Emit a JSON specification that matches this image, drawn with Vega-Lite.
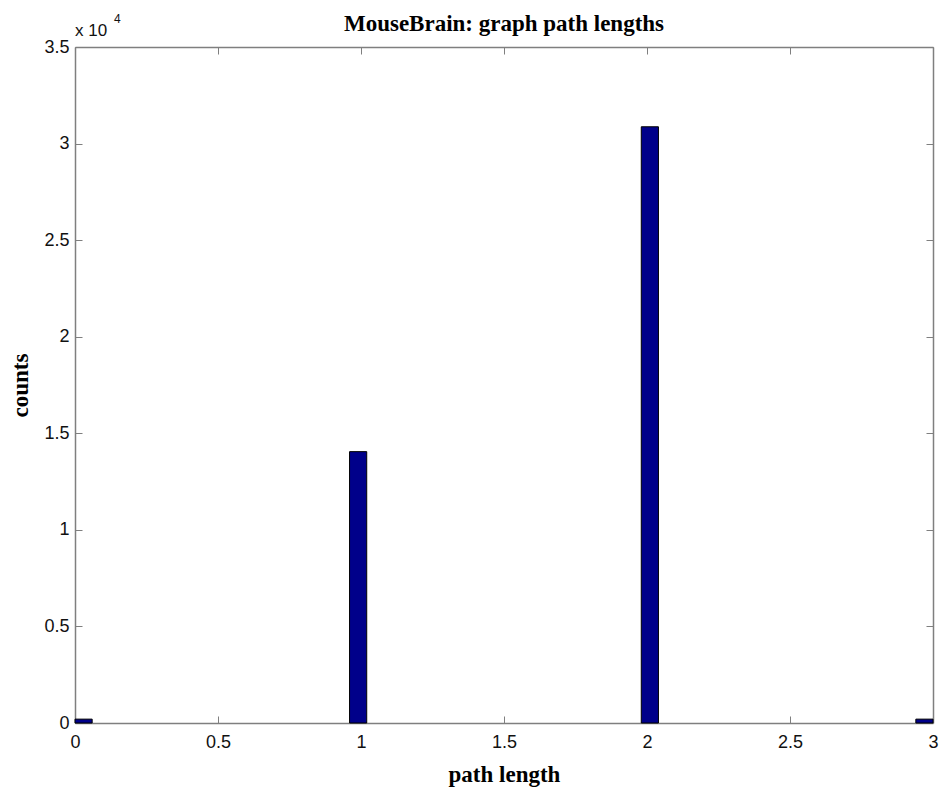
{
  "$schema": "https://vega.github.io/schema/vega-lite/v6.json",
  "autosize": "none",
  "width": 858,
  "height": 676,
  "padding": {"left": 75, "top": 47, "right": 13, "bottom": 70},
  "background": "white",
  "title": {
    "text": "MouseBrain: graph path lengths",
    "font": "Liberation Serif",
    "fontSize": 23,
    "fontWeight": "bold",
    "color": "#000000",
    "offset": -23,
    "anchor": "middle"
  },
  "config": {
    "view": {"stroke": null},
    "axis": {
      "domainColor": "#7f7f7f",
      "tickColor": "#7f7f7f",
      "domainWidth": 1.5,
      "tickWidth": 1,
      "grid": false,
      "labelFlush": false,
      "labelFont": "Liberation Sans",
      "labelFontSize": 18,
      "labelColor": "#111111",
      "titleFont": "Liberation Serif",
      "titleFontSize": 23,
      "titleFontWeight": "bold",
      "titleColor": "#000000"
    }
  },
  "data": {
    "values": [
      {"x0": 0.0, "x1": 0.06, "count": 200},
      {"x0": 0.96, "x1": 1.02, "count": 14050},
      {"x0": 1.98, "x1": 2.04, "count": 30870},
      {"x0": 2.94, "x1": 3.0, "count": 200}
    ]
  },
  "layer": [
    {
      "mark": {"type": "bar", "fill": "#00008a", "stroke": "#000000", "strokeWidth": 1},
      "encoding": {
        "x": {
          "field": "x0", "type": "quantitative",
          "scale": {"domain": [0, 3], "nice": false, "zero": false},
          "axis": {
            "orient": "bottom",
            "values": [0, 0.5, 1, 1.5, 2, 2.5, 3],
            "labelExpr": "format(datum.value, '~g')",
            "tickSize": -7,
            "labelPadding": 17,
            "title": "path length",
            "titlePadding": 12
          }
        },
        "x2": {"field": "x1"},
        "y": {
          "field": "count", "type": "quantitative",
          "scale": {"domain": [0, 35000], "nice": false},
          "axis": {
            "orient": "left",
            "values": [0, 5000, 10000, 15000, 20000, 25000, 30000, 35000],
            "labelExpr": "format(datum.value/10000, '.2~f')",
            "tickSize": -7,
            "labelPadding": 13,
            "title": "counts",
            "titlePadding": 11
          }
        },
        "y2": {"datum": 0}
      }
    },
    {
      "mark": {"type": "bar", "opacity": 0},
      "encoding": {
        "x": {
          "field": "x0", "type": "quantitative",
          "axis": {
            "orient": "top",
            "values": [0, 0.5, 1, 1.5, 2, 2.5, 3],
            "tickSize": -7,
            "labels": false,
            "title": null
          }
        },
        "x2": {"field": "x1"},
        "y": {
          "field": "count", "type": "quantitative",
          "axis": {
            "orient": "right",
            "values": [0, 5000, 10000, 15000, 20000, 25000, 30000, 35000],
            "tickSize": -7,
            "labels": false,
            "title": null
          }
        },
        "y2": {"datum": 0}
      }
    },
    {
      "data": {"values": [{"t": "x 10", "e": "4", "xv": 0, "yv": 35000}]},
      "mark": {"type": "text", "font": "Liberation Sans", "fontSize": 17, "align": "left", "baseline": "bottom", "dx": 0, "dy": -7, "color": "#111111"},
      "encoding": {
        "x": {"field": "xv", "type": "quantitative", "axis": null},
        "y": {"field": "yv", "type": "quantitative", "axis": null},
        "text": {"field": "t"}
      }
    },
    {
      "data": {"values": [{"t": "x 10", "e": "4", "xv": 0, "yv": 35000}]},
      "mark": {"type": "text", "font": "Liberation Sans", "fontSize": 12, "align": "left", "baseline": "bottom", "dx": 39, "dy": -21, "color": "#111111"},
      "encoding": {
        "x": {"field": "xv", "type": "quantitative", "axis": null},
        "y": {"field": "yv", "type": "quantitative", "axis": null},
        "text": {"field": "e"}
      }
    }
  ],
  "resolve": {"axis": {"x": "independent", "y": "independent"}}
}
